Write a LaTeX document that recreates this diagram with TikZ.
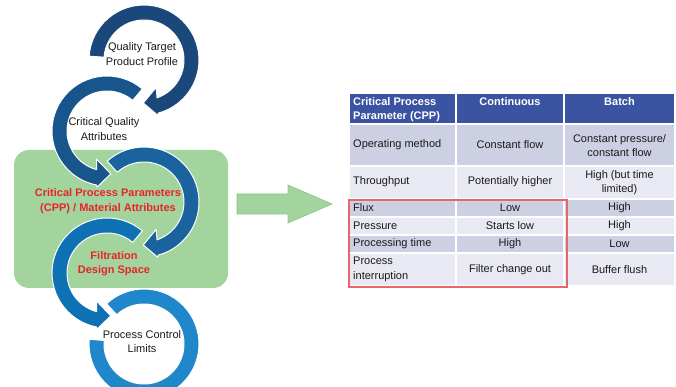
\documentclass[tikz,border=0pt]{standalone}
\usepackage{fontspec}
\setmainfont{Liberation Sans}
\usetikzlibrary{calc}
\definecolor{ink}{HTML}{1A1A1A}
\definecolor{alert}{HTML}{E8242B}
\definecolor{zone}{HTML}{A3D49D}
\definecolor{zoneedge}{HTML}{86C57F}
\definecolor{ringa}{HTML}{1A487A}
\definecolor{ringb}{HTML}{17558C}
\definecolor{ringc}{HTML}{1A639F}
\definecolor{ringd}{HTML}{0D71B3}
\definecolor{ringe}{HTML}{2088CA}
\definecolor{hdr}{HTML}{3B54A1}
\definecolor{rowd}{HTML}{CDD0E3}
\definecolor{rowl}{HTML}{E8E9F2}
\definecolor{frame}{HTML}{E5676A}

\begin{document}
\begin{tikzpicture}[
  x=1pt, y=1pt,
  lbl/.style={font=\fontsize{11}{14.5}\selectfont, text=ink, align=center, inner sep=0pt},
  hot/.style={lbl, font=\fontsize{11}{14.5}\selectfont\bfseries, text=alert},
  head/.style={lbl, font=\fontsize{11}{14.5}\selectfont\bfseries, text=white},
  txt/.style={lbl, anchor=west, align=left},
  ring/.style={fill=#1, draw=white, line width=1pt, line join=round},
  cell/.style={fill=#1, draw=white, line width=1.5pt},
]
\useasboundingbox (0,0) rectangle (676,387);

% design space backdrop
\node[fill=zone, rounded corners=15pt, minimum width=214pt, minimum height=138pt, inner sep=0pt] (space) at (121,168) {};

% circular arrows: centre x/y, start angle, tip angle, turn sense, colour
\foreach \cx/\cy/\s/\e/\d/\col in {144/327/176/-91/-1/ringa, 107/256/50/275/1/ringb,
                                  144/185/132/-91/-1/ringc, 107/114/50/275/1/ringd}
  \path[ring=\col] ($(\cx,\cy)+(\s:55)$) arc[start angle=\s, end angle={\e-16*(\d)}, radius=55]
    -- ($(\cx,\cy)+({\e-15*(\d)}:57)$) -- ($(\cx,\cy)+(\e:43)$)
    -- ($(\cx,\cy)+({\e-25*(\d)}:30)$) -- ($(\cx,\cy)+({\e-20*(\d)}:40)$)
    arc[start angle={\e-20*(\d)}, end angle=\s, radius=40] -- cycle;

% last ring, no head
\path[ring=ringe] ($(144,43)+(133:55)$) arc[start angle=133, end angle=-185, radius=55]
  -- ($(144,43)+(-185:40)$) arc[start angle=-185, end angle=133, radius=40] -- cycle;

\node[lbl] (qtpp) at (142,333) {Quality Target\\Product Profile};
\node[lbl] (cqa) at (104,258) {Critical Quality\\Attributes};
\node[hot] (cpp) at (108,186) {Critical Process Parameters\\(CPP) / Material Attributes};
\node[hot] (fds) at (114,123.5) {Filtration\\Design Space};
\node[lbl] (pcl) at (142,45.5) {Process Control\\Limits};

% block arrow towards the table
\path[fill=zone, draw=zoneedge, line width=0.6pt] (237,193) -- (288,193) -- (288,202)
  -- (332,183) -- (288,164) -- (288,173) -- (237,173) -- cycle;

% table cells
\foreach \x/\w in {349/456, 456/564, 564/675}
  \path[cell=hdr] (\x,294) rectangle (\w,263);
\foreach \t/\b/\col in {263/221/rowd, 221/188/rowl, 188/170/rowd, 170/152/rowl, 152/134/rowd, 134/101/rowl}
  \foreach \x/\w in {349/456, 456/564, 564/675}
    \path[cell=\col] (\x,\t) rectangle (\w,\b);

\node[head, anchor=west, align=left] (hcpp) at (353,277.5) {Critical Process\\Parameter (CPP)};
\node[head] (hcont) at (510,285) {Continuous};
\node[head] (hbatch) at (619.5,285) {Batch};

\node[txt] (op) at (353,242) {Operating method};
\node[lbl] (opc) at (510,242) {Constant flow};
\node[lbl] (opb) at (619.5,241.5) {Constant pressure/\\constant flow};

\node[txt] (tp) at (353,205) {Throughput};
\node[lbl] (tpc) at (510,205) {Potentially higher};
\node[lbl] (tpb) at (619.5,204.5) {High (but time\\limited)};

\node[txt] (fx) at (353,179) {Flux};
\node[lbl] (fxc) at (510,179) {Low};
\node[lbl] (fxb) at (619.5,179) {High};

\node[txt] (pr) at (353,161) {Pressure};
\node[lbl] (prc) at (510,161) {Starts low};
\node[lbl] (prb) at (619.5,161) {High};

\node[txt] (pt) at (353,143) {Processing time};
\node[lbl] (ptc) at (510,143) {High};
\node[lbl] (ptb) at (619.5,143) {Low};

\node[txt] (pi) at (353,117.5) {Process\\interruption};
\node[lbl] (pic) at (510,117.5) {Filter change out};
\node[lbl] (pib) at (619.5,117.5) {Buffer flush};

% highlight on the rows that differ
\draw[frame, line width=1.3pt] (349,187) rectangle (567,100);

\end{tikzpicture}
\end{document}
